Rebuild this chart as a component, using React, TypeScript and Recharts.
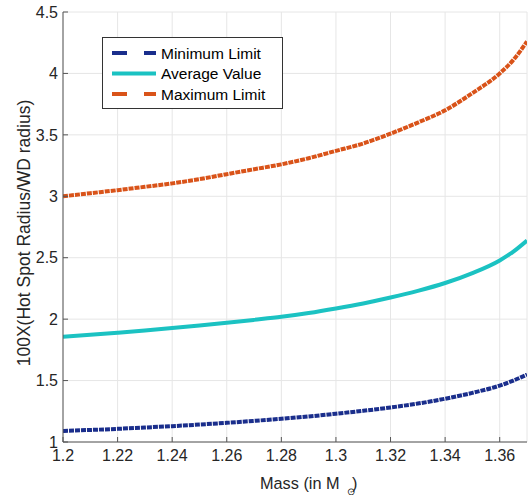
import { CartesianGrid, Legend, Line, LineChart, XAxis, YAxis } from "recharts";

const masses = [1.2, 1.21, 1.22, 1.23, 1.24, 1.25, 1.26, 1.27, 1.28, 1.29, 1.3, 1.31, 1.32, 1.33, 1.34, 1.35, 1.36, 1.365, 1.37];
const minLimit = [1.09, 1.098, 1.107, 1.118, 1.129, 1.142, 1.156, 1.172, 1.189, 1.208, 1.23, 1.254, 1.281, 1.313, 1.352, 1.4, 1.459, 1.5, 1.549];
const avgValue = [1.857, 1.872, 1.889, 1.907, 1.927, 1.948, 1.97, 1.994, 2.019, 2.05, 2.087, 2.128, 2.176, 2.23, 2.294, 2.375, 2.478, 2.55, 2.64];
const maxLimit = [3.0, 3.025, 3.05, 3.077, 3.105, 3.14, 3.18, 3.22, 3.26, 3.31, 3.37, 3.43, 3.51, 3.6, 3.7, 3.84, 4.0, 4.11, 4.26];

const massTicks = [1.2, 1.22, 1.24, 1.26, 1.28, 1.3, 1.32, 1.34, 1.36];
const radiusTicks = [1, 1.5, 2, 2.5, 3, 3.5, 4, 4.5];

const series = [
  { key: "min", name: "Minimum Limit", color: "#1A2E8C", dashed: true },
  { key: "avg", name: "Average Value", color: "#1BC2C2", dashed: false },
  { key: "max", name: "Maximum Limit", color: "#D95319", dashed: true }
];

const data = masses.map((mass, i) => ({ mass, min: minLimit[i], avg: avgValue[i], max: maxLimit[i] }));

const font = "'Liberation Sans', Arial, Helvetica, sans-serif";
const axisColor = "#555555";
const textColor = "#262626";
const tickFont = { fontSize: 16, fill: textColor, fontFamily: font };

function LegendBox() {
  return (
    <div
      style={{
        border: "1px solid #333",
        background: "#fff",
        width: 179,
        height: 70,
        boxSizing: "content-box"
      }}
    >
      <svg width={179} height={70} style={{ display: "block" }}>
        {series.map((s, i) => (
          <g key={s.key}>
            <line
              x1={9}
              x2={53}
              y1={15 + i * 20.5}
              y2={15 + i * 20.5}
              stroke={s.color}
              strokeWidth={4}
              strokeDasharray={s.dashed ? "15 17" : undefined}
            />
            <text x={58} y={20.5 + i * 20.5} fontFamily={font} fontSize={15.5} fill="#000">
              {s.name}
            </text>
          </g>
        ))}
      </svg>
    </div>
  );
}

export default function App() {
  return (
    <div style={{ position: "absolute", left: 0, top: 0, background: "#fff" }}>
      <LineChart width={530} height={495} data={data} margin={{ top: 12, right: 3, bottom: 0, left: 0 }}>
        <CartesianGrid stroke="#e6e6e6" strokeWidth={1} xAxisId="bottom" yAxisId="left" />
        <XAxis
          xAxisId="bottom"
          dataKey="mass"
          type="number"
          domain={[1.2, 1.37]}
          ticks={massTicks}
          allowDataOverflow
          height={53}
          tickSize={-5}
          tickMargin={13}
          stroke={axisColor}
          tick={tickFont}
          label={{
            content: () => (
              <text x={260} y={489} fontFamily={font} fontSize={16.3} fill={textColor}>
                Mass (in M
                <tspan x={347} dy={6} fontSize={10}>⊙</tspan>
                <tspan x={352} dy={-6}>)</tspan>
              </text>
            )
          }}
        />
        <XAxis
          xAxisId="top"
          orientation="top"
          dataKey="mass"
          type="number"
          domain={[1.2, 1.37]}
          ticks={massTicks}
          allowDataOverflow
          height={0}
          tickSize={-5}
          stroke={axisColor}
          tick={false}
        />
        <YAxis
          yAxisId="left"
          type="number"
          domain={[1, 4.5]}
          ticks={radiusTicks}
          allowDataOverflow
          width={63}
          tickSize={-5}
          tickMargin={10}
          stroke={axisColor}
          tick={tickFont}
          label={{
            content: () => (
              <text
                x={30}
                y={233}
                transform="rotate(-90, 30, 233)"
                textAnchor="middle"
                fontFamily={font}
                fontSize={17.5}
                fill={textColor}
              >
                100X(Hot Spot Radius/WD radius)
              </text>
            )
          }}
        />
        <YAxis
          yAxisId="right"
          orientation="right"
          type="number"
          domain={[1, 4.5]}
          ticks={radiusTicks}
          allowDataOverflow
          width={0}
          tickSize={-5}
          stroke={axisColor}
          tick={false}
        />
        {series.map((s) => (
          <Line
            key={s.key}
            xAxisId="bottom"
            yAxisId="left"
            type="monotone"
            dataKey={s.key}
            name={s.name}
            stroke={s.color}
            strokeWidth={4}
            strokeDasharray={s.dashed ? "5 1" : undefined}
            dot={false}
            activeDot={false}
            isAnimationActive={false}
          />
        ))}
        <Legend
          layout="vertical"
          align="center"
          verticalAlign="middle"
          wrapperStyle={{ position: "absolute", left: 102, top: 37, width: 181 }}
          content={() => <LegendBox />}
        />
      </LineChart>
    </div>
  );
}
